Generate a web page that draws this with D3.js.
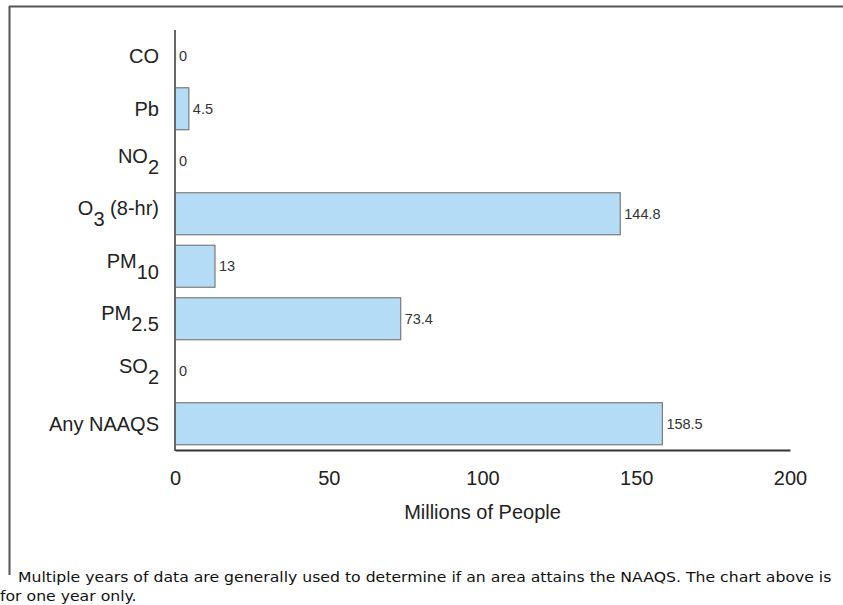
<!DOCTYPE html>
<html>
<head>
<meta charset="utf-8">
<script src="https://cdn.jsdelivr.net/npm/d3@7"></script>
<style>
  html, body { margin: 0; padding: 0; background: #fff; }
  svg { display: block; }
</style>
</head>
<body>
<svg id="chart" width="843" height="605"></svg>
<script>
// ---- data ----
const categories = ["CO", "Pb", "NO2", "O3 (8-hr)", "PM10", "PM2.5", "SO2", "Any NAAQS"];
const values = [0, 4.5, 0, 144.8, 13, 73.4, 0, 158.5];
const valueLabels = ["0", "4.5", "0", "144.8", "13", "73.4", "0", "158.5"];
const xTicks = [0, 50, 100, 150, 200];
const xTitle = "Millions of People";
const footnoteLines = [
  " Multiple years of data are generally used to determine if an area attains the NAAQS. The chart above is",
  "for one year only."
];

const svg = d3.select("#chart");
const font = "'Liberation Sans', Arial, sans-serif";

// frame
svg.append("line").attr("x1", 9).attr("x2", 843).attr("y1", 6.5).attr("y2", 6.5)
  .attr("stroke", "#555").attr("stroke-width", 2);
svg.append("line").attr("x1", 9.5).attr("x2", 9.5).attr("y1", 6).attr("y2", 575)
  .attr("stroke", "#555").attr("stroke-width", 2);

const x = d3.scaleLinear().domain([0, 200]).range([175, 790]);
const y = d3.scaleBand().domain(categories).range([30, 450]).paddingInner(0.2).paddingOuter(0.1);

const data = categories.map((c, i) => ({ c, v: values[i], label: valueLabels[i] }));

// bars
svg.append("g").selectAll("rect").data(data).enter().append("rect")
  .attr("x", x(0))
  .attr("y", d => y(d.c))
  .attr("width", d => x(d.v) - x(0))
  .attr("height", y.bandwidth())
  .attr("fill", "#b4dcf6")
  .attr("stroke", d => d.v > 0 ? "#7a7a7a" : "none")
  .attr("stroke-width", 1.2);

// value labels
svg.append("g").selectAll("text").data(data).enter().append("text")
  .attr("x", d => x(d.v) + 4)
  .attr("y", d => y(d.c) + y.bandwidth() / 2 + 5)
  .attr("font-family", font).attr("font-size", 14.5).attr("fill", "#333")
  .text(d => d.label);

// y axis line
svg.append("line").attr("x1", x(0)).attr("x2", x(0)).attr("y1", 30).attr("y2", 451)
  .attr("stroke", "#666").attr("stroke-width", 2);

// x axis
const xAxis = d3.axisBottom(x).tickValues(xTicks).tickSize(0).tickPadding(0).tickFormat(d3.format("d"));
const gx = svg.append("g").attr("transform", "translate(0,450)").call(xAxis);
gx.select(".domain").attr("stroke", "#333").attr("stroke-width", 2);
gx.selectAll("text").attr("font-family", font).attr("font-size", 20).attr("fill", "#222")
  .attr("dy", null).attr("y", 35);

// y category labels with subscripts
const re = /^([A-Za-z]+)(\d+(?:\.\d+)?)(.*)$/;
const lg = svg.append("g");
data.forEach(d => {
  const cy = y(d.c) + y.bandwidth() / 2;
  const t = lg.append("text").attr("x", 159).attr("text-anchor", "end")
    .attr("font-family", font).attr("font-size", 20).attr("fill", "#222");
  const m = d.c.match(re);
  if (m) {
    t.attr("y", cy + 1.5);
    t.append("tspan").text(m[1]);
    t.append("tspan").attr("dy", 11).text(m[2]);
    if (m[3]) t.append("tspan").attr("dy", -11).text(m[3]);
  } else {
    t.attr("y", cy + 7).text(d.c);
  }
});

// x title
svg.append("text").attr("x", (x(0) + x(200)) / 2 + 0).attr("y", 519)
  .attr("text-anchor", "middle").attr("font-family", font).attr("font-size", 20).attr("fill", "#222")
  .text(xTitle);

// footnote
svg.append("g").selectAll("text").data(footnoteLines).enter().append("text")
  .attr("transform", (d, i) => `translate(${i === 0 ? 13 : 0},${582 + i * 19}) scale(1.12,1)`)
  .attr("font-family", "'DejaVu Sans', Verdana, sans-serif").attr("font-size", 14).attr("fill", "#111")
  .attr("xml:space", "preserve").style("white-space", "pre")
  .text(d => d);
</script>
</body>
</html>
